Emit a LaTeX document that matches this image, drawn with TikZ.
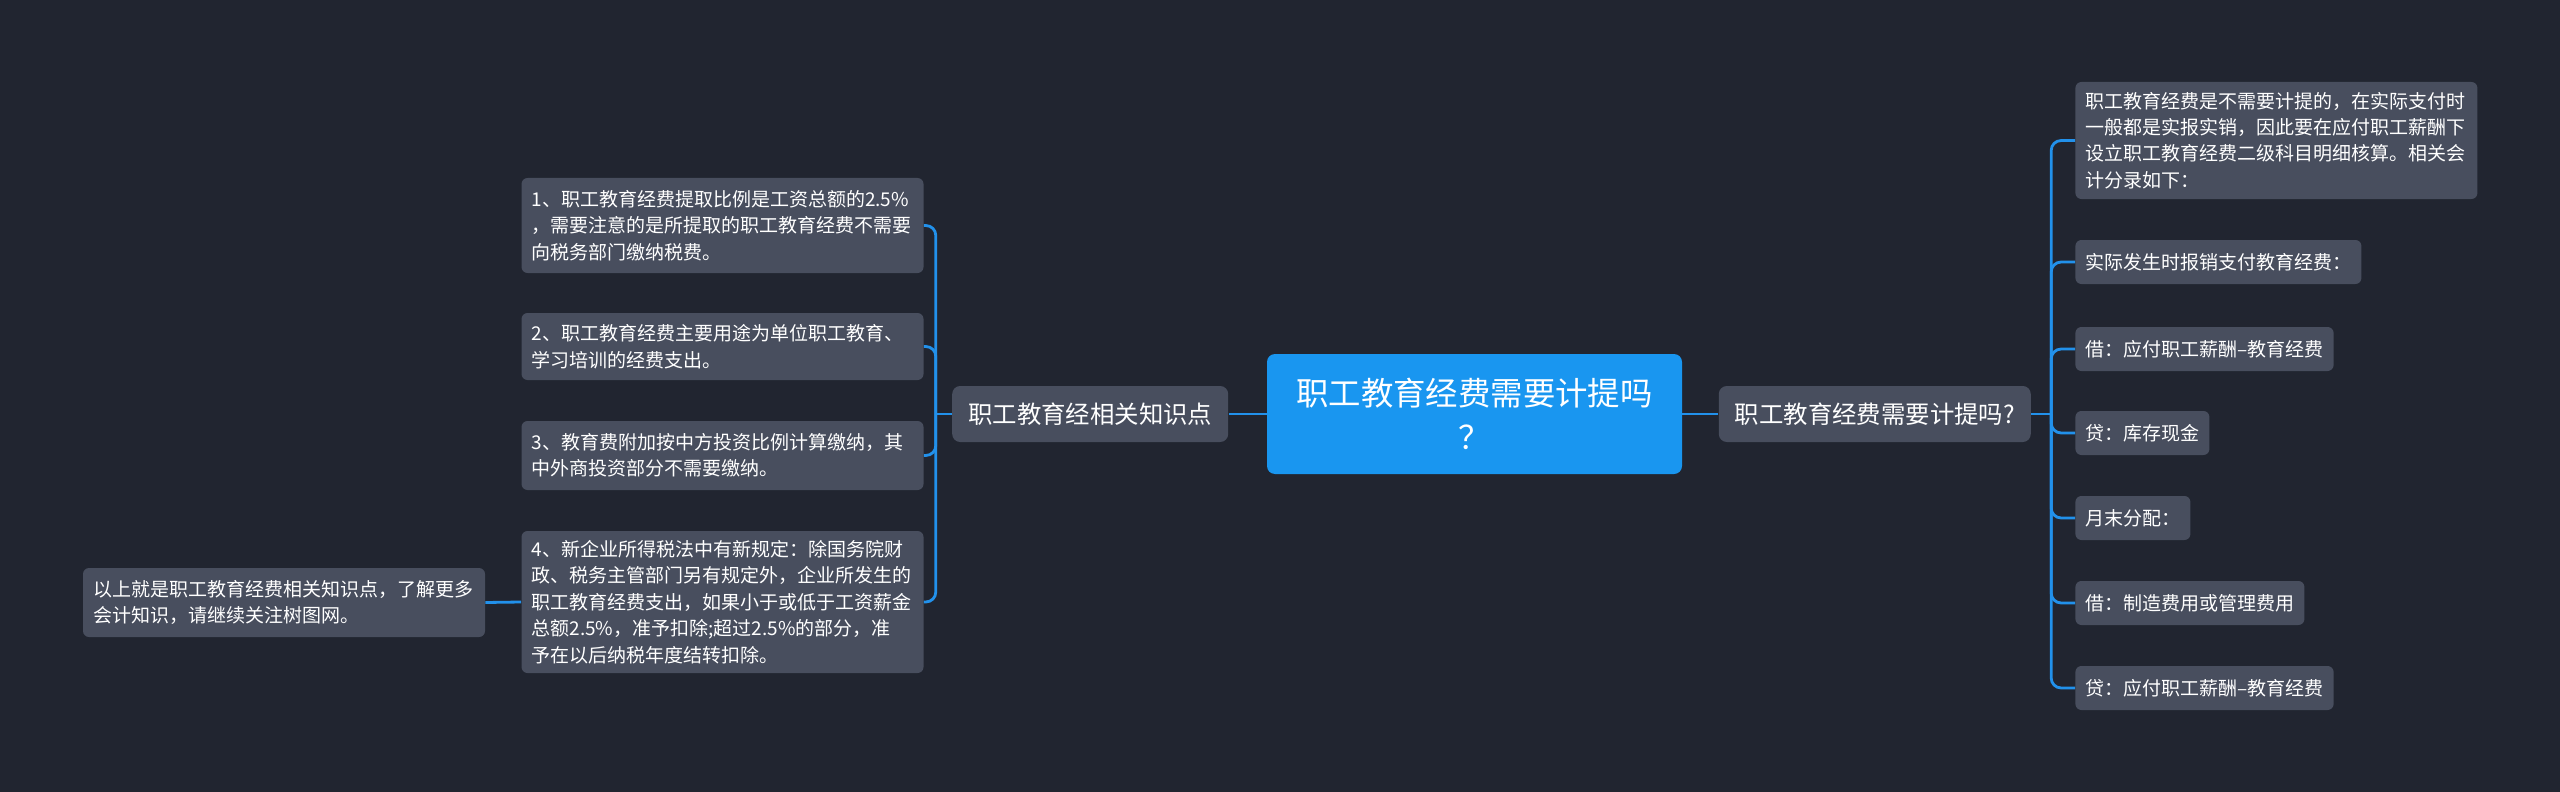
\documentclass[tikz,border=0pt]{standalone}
\usepackage{fontspec}
\setmainfont{Noto Sans CJK SC}
\usepackage{tikz}
\usetikzlibrary{positioning}
\definecolor{bgnavy}{RGB}{33, 37, 48}
\definecolor{leafgrey}{RGB}{72, 78, 94}
\definecolor{rootblue}{RGB}{25, 150, 240}
\definecolor{linkblue}{RGB}{34, 145, 235}

\begin{document}
\begin{tikzpicture}[x=0.5pt, y=-0.5pt,
  every node/.style={text=white, inner ysep=0pt},
  root/.style={fill=rootblue, rounded corners=4pt, minimum width=207.5pt, minimum height=60pt, align=center, font=\fontsize{16.2}{22}\selectfont},
  topic/.style={fill=leafgrey, rounded corners=4pt, minimum height=28pt, inner xsep=8pt, font=\fontsize{12.2}{14}\selectfont},
  leaf/.style={fill=leafgrey, rounded corners=3pt, align=left, inner xsep=5pt, font=\fontsize{9.5}{13.2}\selectfont},
  link/.style={draw=linkblue, line width=1.4pt, rounded corners=5pt}]
\fill[bgnavy] (0,0) rectangle (2560,792);
\useasboundingbox (0,0) rectangle (2560,792);

\node[root] (root) at (1474.5,414) {职工教育经费需要计提吗\\？};
\node[topic, right=18pt of root] (ask) {职工教育经费需要计提吗?};
\node[topic, left=19pt of root] (know) {职工教育经相关知识点};

% left side
\node[leaf, text width=191pt, minimum height=47.5pt] (k1) at (722.5,225.5) {1、职工教育经费提取比例是工资总额的2.5\%\\，需要注意的是所提取的职工教育经费不需要\\向税务部门缴纳税费。};
\node[leaf, text width=191pt, minimum height=33.5pt] (k2) at (722.5,346.5) {2、职工教育经费主要用途为单位职工教育、\\学习培训的经费支出。};
\node[leaf, text width=191pt, minimum height=34.5pt] (k3) at (722.5,455.5) {3、教育费附加按中方投资比例计算缴纳，其\\中外商投资部分不需要缴纳。};
\node[leaf, text width=191pt, minimum height=71pt] (k4) at (722.5,602) {4、新企业所得税法中有新规定：除国务院财\\政、税务主管部门另有规定外，企业所发生的\\职工教育经费支出，如果小于或低于工资薪金\\总额2.5\%，准予扣除;超过2.5\%的部分，准\\予在以后纳税年度结转扣除。};
\node[leaf, text width=191pt, minimum height=34.5pt] (sum) at (284,602.5) {以上就是职工教育经费相关知识点，了解更多\\会计知识，请继续关注树图网。};

% right side
\node[leaf, text width=191pt, minimum height=58.5pt, anchor=west] (r1) at (2075,140.5) {职工教育经费是不需要计提的，在实际支付时\\一般都是实报实销，因此要在应付职工薪酬下\\设立职工教育经费二级科目明细核算。相关会\\计分录如下：};
\node[leaf, minimum height=22pt, anchor=west] (r2) at (2075,262) {实际发生时报销支付教育经费：};
\node[leaf, minimum height=22pt, anchor=west] (r3) at (2075,349) {借：应付职工薪酬–教育经费};
\node[leaf, minimum height=22pt, anchor=west] (r4) at (2075,433) {贷：库存现金};
\node[leaf, minimum height=22pt, anchor=west] (r5) at (2075,518) {月末分配：};
\node[leaf, minimum height=22pt, anchor=west] (r6) at (2075,603) {借：制造费用或管理费用};
\node[leaf, minimum height=22pt, anchor=west] (r7) at (2075,688) {贷：应付职工薪酬–教育经费};

\draw[link] (root.east) -- (ask.west);
\draw[link] (root.west) -- (know.east);
\draw[link] (ask.east) -- ++(10pt,0) coordinate (askhub);
\foreach \n in {r1,r2,r3,r4,r5,r6,r7}
  \draw[link] (askhub) |- (\n.west);
\draw[link] (know.west) -- ++(-8pt,0) coordinate (knowhub);
\foreach \n in {k1,k2,k3,k4}
  \draw[link] (knowhub) |- (\n.east);
\draw[link] (k4.west) -- (sum.east);
\end{tikzpicture}
\end{document}
